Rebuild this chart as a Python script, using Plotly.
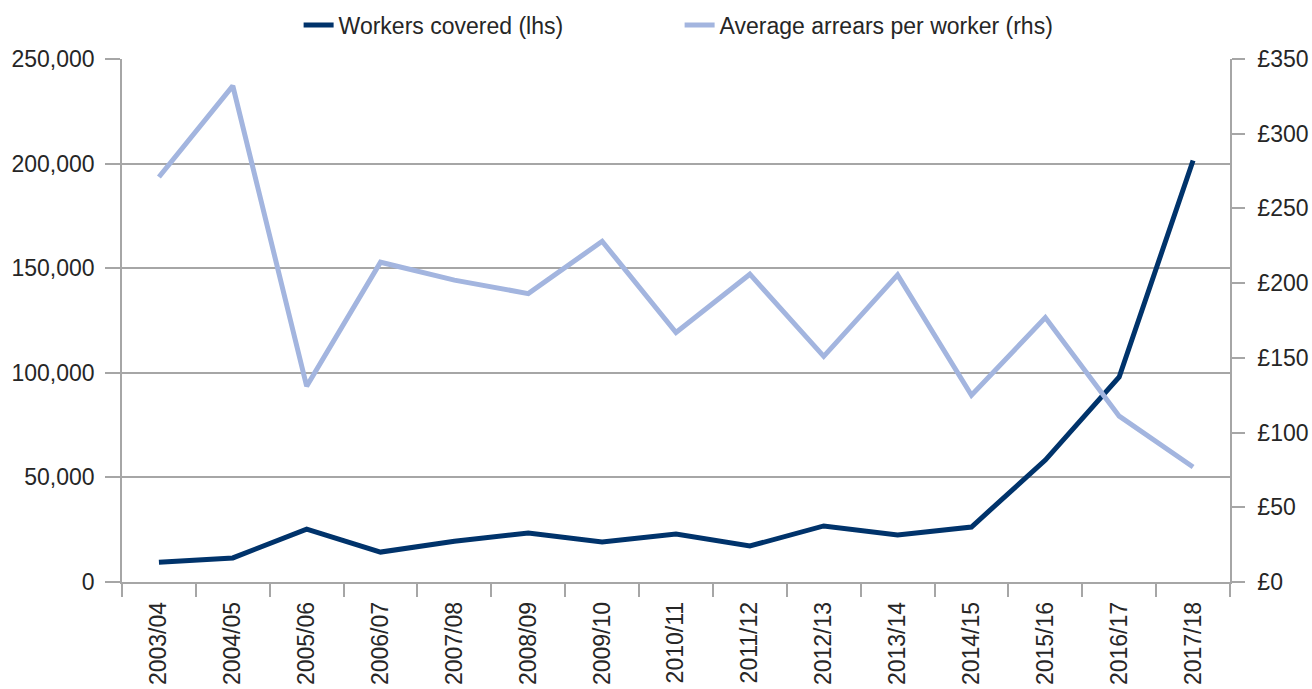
import plotly.graph_objects as go

# Financial years on the category axis
years = ["2003/04", "2004/05", "2005/06", "2006/07", "2007/08", "2008/09",
         "2009/10", "2010/11", "2011/12", "2012/13", "2013/14", "2014/15",
         "2015/16", "2016/17", "2017/18"]

# Number of workers covered (left axis)
workers_covered = [9500, 11500, 25300, 14300, 19500, 23400, 19100, 22900,
                   17200, 26800, 22500, 26300, 58300, 98000, 201500]

# Average arrears per worker in £ (right axis)
avg_arrears = [271, 332, 131, 214, 202, 193, 228, 167, 206, 151, 205.5,
               125, 177, 111, 77]

DARK = "#00336b"
LIGHT = "#a3b5df"
GRID = "#a6a6a6"
TEXT = "#262626"
FONT = "Liberation Sans"

fig = go.Figure()
fig.add_trace(go.Scatter(
    x=years, y=workers_covered, name="Workers covered (lhs)",
    mode="lines", line=dict(color=DARK, width=5), yaxis="y",
))
fig.add_trace(go.Scatter(
    x=years, y=avg_arrears, name="Average arrears per worker (rhs)",
    mode="lines", line=dict(color=LIGHT, width=5), yaxis="y2",
))

fig.update_layout(
    width=1312, height=689,
    margin=dict(l=122, r=82, t=59, b=107, autoexpand=False),
    paper_bgcolor="white", plot_bgcolor="white",
    font=dict(family=FONT, size=23, color=TEXT),
    showlegend=True,
    legend=dict(
        orientation="h", xref="container", x=0.518, xanchor="center",
        yref="container", y=1 - 25 / 689, yanchor="middle",
        font=dict(size=23, color=TEXT), entrywidth=336,
        bgcolor="rgba(0,0,0,0)",
    ),
    xaxis=dict(
        type="category", range=[-0.5, len(years) - 0.5], automargin=False,
        tickson="boundaries", ticks="outside", ticklen=13, tickwidth=1.5,
        tickcolor=GRID, showline=True, linecolor=GRID, linewidth=1.5,
        showgrid=False, tickangle=-90, ticklabelstandoff=9,
        tickfont=dict(size=23, color=TEXT),
    ),
    yaxis=dict(
        range=[0, 250000], tickvals=[0, 50000, 100000, 150000, 200000, 250000],
        tickformat=",", showgrid=True, gridcolor=GRID, gridwidth=1.5,
        zeroline=False, showline=True, linecolor=GRID, linewidth=1.5,
        ticks="outside", ticklen=15, tickwidth=1.5, tickcolor=GRID,
        ticklabelstandoff=6, tickfont=dict(size=23, color=TEXT),
        automargin=False,
    ),
    yaxis2=dict(
        overlaying="y", side="right", range=[0, 350], dtick=50,
        tickprefix="£", showgrid=False, zeroline=False,
        showline=True, linecolor=GRID, linewidth=1.5,
        ticks="outside", ticklen=13, tickwidth=1.5, tickcolor=GRID,
        ticklabelstandoff=8, tickfont=dict(size=23, color=TEXT),
        automargin=False,
    ),
)

fig.write_html("out.html")
